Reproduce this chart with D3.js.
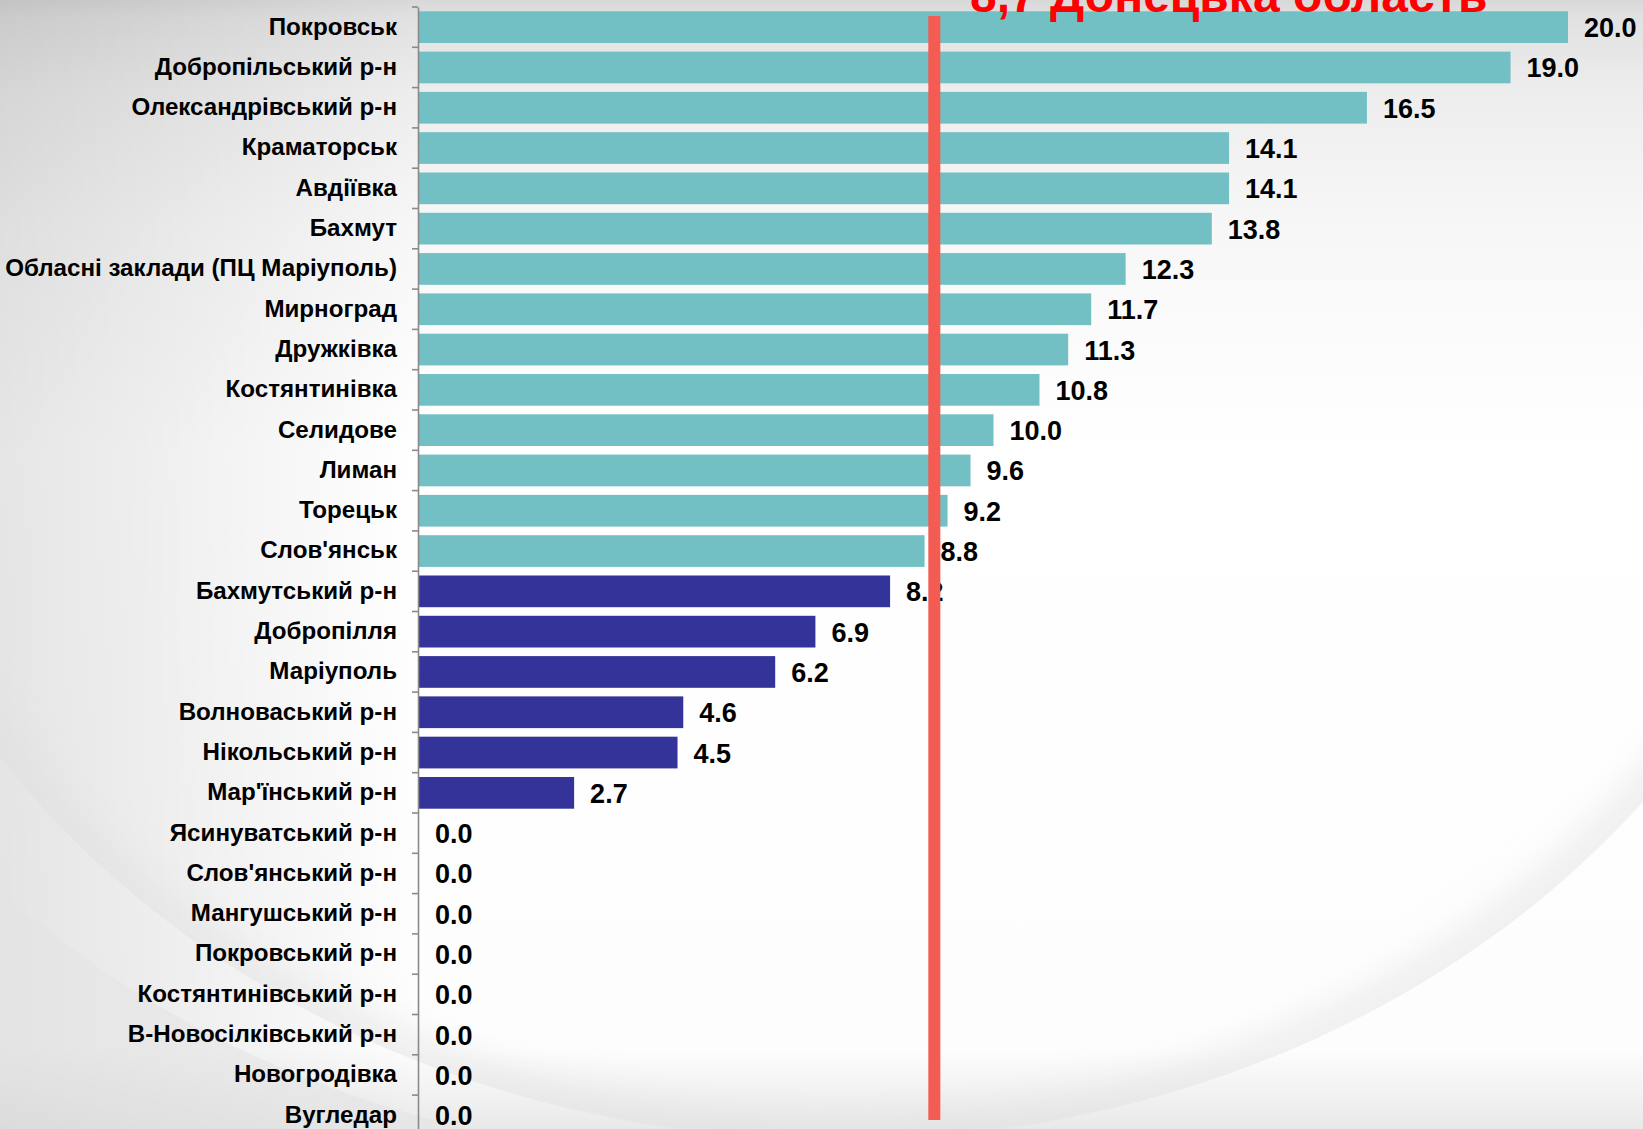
<!DOCTYPE html>
<html>
<head>
<meta charset="utf-8">
<script src="https://cdn.jsdelivr.net/npm/d3@7"></script>
<style>
body { margin: 0; background: #fff; }
svg { display: block; font-family: "Liberation Sans", Arial, sans-serif; font-weight: bold; }
</style>
</head>
<body>
<svg id="chart" width="1643" height="1129"></svg>
<script>
const districts = [
	"Покровськ",
	"Добропільський р-н",
	"Олександрівський р-н",
	"Краматорськ",
	"Авдіївка",
	"Бахмут",
	"Обласні заклади (ПЦ Маріуполь)",
	"Мирноград",
	"Дружківка",
	"Костянтинівка",
	"Селидове",
	"Лиман",
	"Торецьк",
	"Слов'янськ",
	"Бахмутський р-н",
	"Добропілля",
	"Маріуполь",
	"Волноваський р-н",
	"Нікольський р-н",
	"Мар'їнський р-н",
	"Ясинуватський р-н",
	"Слов'янський р-н",
	"Мангушський р-н",
	"Покровський р-н",
	"Костянтинівський р-н",
	"В-Новосілківський р-н",
	"Новогродівка",
	"Вугледар"
];

const rates = [20.0, 19.0, 16.5, 14.1, 14.1, 13.8, 12.3, 11.7, 11.3, 10.8, 10.0, 9.6, 9.2, 8.8,
	8.2, 6.9, 6.2, 4.6, 4.5, 2.7, 0, 0, 0, 0, 0, 0, 0, 0];

const regionAvg = 8.7;
const regionTitle = "8,7 Донецька область";
// the red marker on the slide sits a bit right of 8.7
const markerValue = 8.97;

const xTicks = [0, 20];

const teal = "#72bfc4";
const navy = "#333399";

const width = 1643, height = 1129;
const svg = d3.select("#chart");

// ---- background (slide template) ----
const defs = svg.append("defs");
const bgV = defs.append("linearGradient").attr("id", "bgV")
	.attr("x1", 0).attr("y1", 0).attr("x2", 0).attr("y2", 1);
[[0, "#d8d8d8"], [0.015, "#e1e1e1"], [0.08, "#ededed"], [0.2, "#f7f7f7"], [0.4, "#ffffff"], [0.93, "#fdfdfd"], [1, "#e9e9e9"]]
	.forEach(s => bgV.append("stop").attr("offset", s[0]).attr("stop-color", s[1]));

const bgL = defs.append("linearGradient").attr("id", "bgL")
	.attr("x1", 0).attr("y1", 0).attr("x2", 1).attr("y2", 0);
bgL.append("stop").attr("offset", 0).attr("stop-color", "#000").attr("stop-opacity", 0.1);
bgL.append("stop").attr("offset", 1).attr("stop-color", "#000").attr("stop-opacity", 0);

defs.append("clipPath").attr("id", "ellClip")
	.append("ellipse").attr("cx", 840).attr("cy", 280).attr("rx", 1010).attr("ry", 860);

defs.append("filter").attr("id", "blur")
	.attr("x", "-20%").attr("y", "-20%").attr("width", "140%").attr("height", "140%")
	.append("feGaussianBlur").attr("stdDeviation", 18);

svg.append("rect").attr("width", width).attr("height", height).attr("fill", "url(#bgV)");
svg.append("rect").attr("width", 420).attr("height", height).attr("fill", "url(#bgL)");

// grey outside the swoosh at bottom left
svg.append("path")
	.attr("d", "M0,890 A1010,860 0 0 0 470,1129 L0,1129 Z")
	.attr("fill", "#e4e4e4").attr("opacity", 0.55);

// soft shadow inside the swoosh edge
svg.append("g").attr("clip-path", "url(#ellClip)")
	.append("ellipse").attr("cx", 840).attr("cy", 280).attr("rx", 1010).attr("ry", 860)
	.attr("fill", "none").attr("stroke", "#dedede").attr("stroke-width", 45)
	.attr("filter", "url(#blur)").attr("opacity", 0.5);

// ---- chart ----
const x0 = 419;
const x = d3.scaleLinear()
	.domain(xTicks)
	.range([x0, x0 + 20 * 57.45]);

const y = d3.scaleBand()
	.domain(districts)
	.range([7, 7 + 40.3 * districts.length])
	.paddingInner(0.213)
	.paddingOuter(0.1065);

const g = svg.append("g");

g.selectAll(".bar")
	.data(districts)
	.enter().append("rect")
	.attr("class", "bar")
	.attr("x", x(0))
	.attr("y", d => y(d))
	.attr("width", (d, i) => x(rates[i]) - x(0))
	.attr("height", y.bandwidth())
	.attr("fill", (d, i) => rates[i] > regionAvg ? teal : navy);

// category axis, labels centred on the bars
const yAxisG = g.append("g")
	.attr("transform", "translate(" + (x0 - 1) + ",0)")
	.call(d3.axisLeft(y).tickSize(0).tickPadding(0));

yAxisG.select(".domain").attr("stroke", "#8a8a8a").attr("stroke-width", 1.6);
yAxisG.selectAll("text")
	.attr("x", 0)
	.attr("transform", "translate(-21,0) scale(1.05,1)")
	.attr("fill", "#000")
	.attr("font-size", 23)
	.attr("font-family", "Liberation Sans, Arial, sans-serif")
	.attr("font-weight", "bold");

// tick marks between categories
const gap = (y.step() - y.bandwidth()) / 2;
const bounds = districts.map(d => y(d) - gap).concat([y(districts[districts.length - 1]) + y.bandwidth() + gap]);
g.selectAll(".tick-mark")
	.data(bounds)
	.enter().append("line")
	.attr("class", "tick-mark")
	.attr("x1", x0 - 7).attr("x2", x0 - 1)
	.attr("y1", d => d).attr("y2", d => d)
	.attr("stroke", "#8a8a8a").attr("stroke-width", 1.6);

// value labels
g.selectAll(".val")
	.data(districts)
	.enter().append("text")
	.attr("class", "val")
	.attr("x", (d, i) => x(rates[i]) + 16)
	.attr("y", d => y(d) + y.bandwidth() / 2 + 1)
	.attr("dominant-baseline", "central")
	.attr("font-size", 27)
	.attr("fill", "#000")
	.text((d, i) => d3.format(".1f")(rates[i]));

// red marker line for the regional figure
g.append("rect")
	.attr("x", x(markerValue) - 6)
	.attr("y", 16)
	.attr("width", 12)
	.attr("height", 1104)
	.attr("fill", "#f45b52");

g.append("text")
	.attr("x", 970)
	.attr("y", 12)
	.attr("font-size", 48)
	.attr("fill", "#ff0000")
	.text(regionTitle);
</script>
</body>
</html>
